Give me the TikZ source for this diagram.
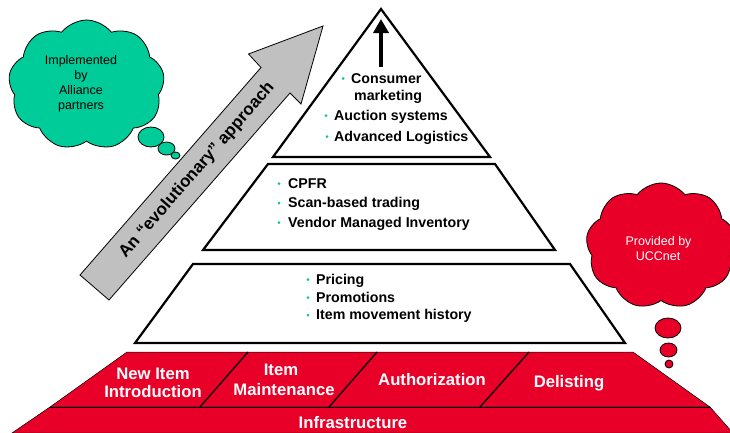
\documentclass[tikz,border=0pt]{standalone}
\usepackage{fontspec}
\setmainfont{Liberation Sans}
\usetikzlibrary{shapes.symbols, arrows.meta}
\definecolor{cgreen}{RGB}{0,204,153}
\definecolor{cred}{RGB}{232,0,40}
\definecolor{cgray}{RGB}{192,192,192}
\definecolor{cbullet}{RGB}{0,200,160}
\begin{document}
\begin{tikzpicture}[x=1pt,y=-1pt,
  layer/.style={draw=black, line width=2.2pt, fill=white, line join=miter},
  item/.style={anchor=base west, font=\bfseries\fontsize{14.2}{16}\selectfont, inner sep=0pt},
  bul/.style={fill=cbullet, circle, inner sep=0pt, minimum size=3pt},
  redtxt/.style={anchor=base, text=white, font=\bfseries\fontsize{16.7}{19}\selectfont, inner sep=0pt},
  cloudtxt/.style={anchor=base, font=\fontsize{12.5}{15}\selectfont, inner sep=0pt},
  redpart/.style={fill=cred, draw=black, line width=0.5pt},
  divider/.style={draw=black, line width=1.3pt},
  bubble/.style={draw=black, line width=0.8pt},
  thought/.style={cloud, cloud puffs=9, cloud puff arc=105, cloud ignores aspect, draw=black, line width=0.8pt, inner sep=0pt}
]
\useasboundingbox (0,0) rectangle (730,432);

% red base
\path[redpart] (127,352) -- (633,352) -- (710,407) -- (50,407) -- cycle;
\path[redpart] (50,407) -- (710,407) -- (733,433) -- (12,433) -- cycle;
\draw[divider] (248,352) -- (200,407);
\draw[divider] (377,352) -- (329,407);
\draw[divider] (529,352) -- (480,407);
\draw[line width=0.8pt] (50,407) -- (710,407);
\node[redtxt] (ni1) at (153,379) {New Item};
\node[redtxt] (ni2) at (153,397) {Introduction};
\node[redtxt] (im1) at (281,375) {Item};
\node[redtxt] (im2) at (284,395) {Maintenance};
\node[redtxt] (au) at (432,385) {Authorization};
\node[redtxt] (de) at (569,387) {Delisting};
\node[redtxt] (inf) at (353,428) {Infrastructure};

% lower layer
\path[layer] (193,264) -- (570,264) -- (625,343) -- (135,343) -- cycle;
\node[bul] (b31) at (308,279.5) {};
\node[item] (pr) at (316,284) {Pricing};
\node[bul] (b32) at (308,297.5) {};
\node[item] (po) at (316,302) {Promotions};
\node[bul] (b33) at (308,315) {};
\node[item] (mh) at (316,319.5) {Item movement history};

% middle layer
\path[layer] (268,164) -- (495,164) -- (555,250) -- (203,250) -- cycle;
\node[bul] (b21) at (279,183.5) {};
\node[item] (cp) at (288,188) {CPFR};
\node[bul] (b22) at (279,203) {};
\node[item] (sb) at (288,207.5) {Scan-based trading};
\node[bul] (b23) at (279,222.5) {};
\node[item] (vm) at (288,227) {Vendor Managed Inventory};

% top layer
\path[layer] (381,9) -- (490,157) -- (273,157) -- cycle;
\coordinate (upA) at (381,67);
\coordinate (upB) at (381,19);
\draw[line width=4pt, -{Triangle[length=14pt,width=15pt]}] (upA) -- (upB);
\node[bul] (b11) at (343,78.5) {};
\node[item] (cm1) at (351,83) {Consumer};
\node[item] (cm2) at (354,100) {marketing};
\node[bul] (b12) at (326,115.5) {};
\node[item] (as) at (334,120) {Auction systems};
\node[bul] (b13) at (327,136.5) {};
\node[item] (al) at (334,141) {Advanced Logistics};

% gray arrow
\path[fill=cgray, draw=black, line width=0.8pt, line join=miter]
  (80,275) -- (261,67.5) -- (248.5,54) -- (323,26) -- (301,104) -- (290,93) -- (109,300) -- cycle;
\node[rotate=48.9, font=\bfseries\fontsize{17}{20}\selectfont, inner sep=0pt] (evo) at (197,170) {An “evolutionary” approach};

% green cloud
\node[thought, fill=cgreen, minimum width=156pt, minimum height=130pt] (gc) at (86.5,85) {};
\node[cloudtxt] (g1) at (81,64) {Implemented};
\node[cloudtxt] (g2) at (81,79) {by};
\node[cloudtxt] (g3) at (81,94) {Alliance};
\node[cloudtxt] (g4) at (81,109) {partners};
\path[bubble, fill=cgreen] (151,137) ellipse [x radius=13, y radius=10];
\path[bubble, fill=cgreen] (166.5,148.5) ellipse [x radius=8.5, y radius=6.5];
\path[bubble, fill=cgreen] (175.5,155.5) ellipse [x radius=4.5, y radius=3.5];

% red cloud
\node[thought, fill=cred, minimum width=150pt, minimum height=126pt] (rc) at (661,246) {};
\node[cloudtxt, text=white] (r1) at (658.5,245) {Provided by};
\node[cloudtxt, text=white] (r2) at (658,260) {UCCnet};
\path[bubble, fill=cred] (668,328) ellipse [x radius=13, y radius=10];
\path[bubble, fill=cred] (668.5,350) ellipse [x radius=8.5, y radius=7];
\path[bubble, fill=cred] (669,364) ellipse [x radius=4, y radius=4];
\end{tikzpicture}
\end{document}
